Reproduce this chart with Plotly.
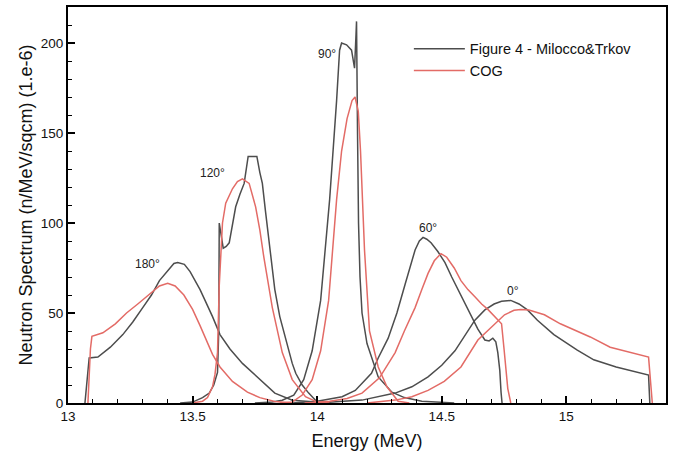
import plotly.graph_objects as go

# ---------------- data (Energy in MeV, spectrum in 1e-6 n/MeV/sqcm) ----------------
mt_180_E = [13.068, 13.078, 13.085, 13.12, 13.17, 13.22, 13.26, 13.30, 13.335, 13.367, 13.39, 13.407,
            13.425, 13.44, 13.467, 13.49, 13.51, 13.53, 13.55, 13.58, 13.61, 13.65, 13.70, 13.77,
            13.83, 13.90, 14.00, 14.05]
mt_180_V = [0, 15, 25, 25.5, 31, 38, 45, 53, 60, 68, 72, 75,
            77.5, 78, 77, 73, 68, 63, 57, 48, 38, 30, 22, 13,
            5.5, 1.5, 0.3, 0]

cog_180_E = [13.08, 13.09, 13.096, 13.14, 13.19, 13.235, 13.28, 13.315, 13.345, 13.367, 13.40, 13.43,
             13.465, 13.50, 13.53, 13.555, 13.58, 13.61, 13.66, 13.72, 13.77, 13.83, 13.90]
cog_180_V = [0, 30, 37, 39, 44, 50, 55, 59, 62.5, 65, 66.5, 65,
             60, 52, 43, 35, 27, 20, 12, 6, 3, 0.8, 0]

mt_120_E = [13.45, 13.50, 13.54, 13.567, 13.585, 13.60, 13.605, 13.607, 13.623, 13.635, 13.647, 13.66,
            13.673, 13.69, 13.707, 13.723, 13.758, 13.77, 13.78, 13.793, 13.806, 13.82, 13.83, 13.85,
            13.874, 13.90, 13.914, 13.94, 13.966, 14.00, 14.05]
mt_120_V = [0, 0.5, 3, 5.5, 10, 17, 40, 100, 86, 87, 89, 98,
            109, 116, 122, 137, 137, 128, 122, 106, 90.6, 75, 63, 48,
            35, 22, 16.5, 10, 5.5, 0.5, 0]

cog_120_E = [13.50, 13.54, 13.56, 13.58, 13.59, 13.60, 13.607, 13.62, 13.633, 13.66, 13.68, 13.70,
             13.727, 13.753, 13.77, 13.786, 13.82, 13.86, 13.90, 13.953, 14.00, 14.05]
cog_120_V = [0, 1, 3, 9, 16, 28, 65, 100, 111, 119, 123, 124.5,
             122, 109, 96, 81, 53, 28, 13, 3.5, 0.5, 0]

mt_90_E = [13.75, 13.82, 13.86, 13.906, 13.946, 13.98, 14.014, 14.05, 14.078, 14.09, 14.098, 14.118,
           14.138, 14.146, 14.15, 14.156, 14.158, 14.162, 14.166, 14.172, 14.18, 14.20, 14.245, 14.30,
           14.35, 14.42, 14.55]
mt_90_V = [0, 0.5, 1.5, 4.4, 13, 29, 57, 113, 168, 196, 200, 199,
           196, 188, 186, 205, 212, 150, 100, 70, 50, 33, 14.5, 6,
           3, 1, 0]

cog_90_E = [13.85, 13.90, 13.94, 13.98, 14.014, 14.046, 14.078, 14.098, 14.12, 14.14, 14.152, 14.165,
            14.174, 14.19, 14.21, 14.245, 14.28, 14.325, 14.37]
cog_90_V = [0, 0.5, 4.4, 13, 29, 57, 113, 140, 158, 168, 170, 162,
            140, 85, 40, 20, 9, 1, 0]

mt_60_E = [13.90, 14.00, 14.10, 14.153, 14.218, 14.245, 14.285, 14.32, 14.353, 14.375, 14.393, 14.41,
           14.425, 14.44, 14.457, 14.485, 14.513, 14.54, 14.565, 14.59, 14.617, 14.645, 14.673, 14.69,
           14.705, 14.717, 14.725, 14.733, 14.738, 14.742]
mt_60_V = [0, 1, 3.5, 7, 16.5, 25, 36, 50, 66, 76, 85, 90,
           92, 91, 89, 84, 78, 70, 63, 56, 48, 41, 35, 34.5,
           36, 34, 28, 18, 6, 0]

cog_60_E = [13.95, 14.05, 14.12, 14.18, 14.25, 14.313, 14.35, 14.393, 14.42, 14.445, 14.47, 14.497,
            14.52, 14.55, 14.577, 14.605, 14.633, 14.66, 14.685, 14.71, 14.725, 14.74, 14.75, 14.765,
            14.777]
cog_60_V = [0, 1, 2.5, 5.5, 14, 28, 40, 53, 63, 72, 79, 83,
            81, 75, 68, 63, 59, 55, 52, 48.5, 46, 44, 30, 8,
            0]

mt_0_E = [14.00, 14.18, 14.313, 14.38, 14.445, 14.50, 14.553, 14.60, 14.633, 14.673, 14.71, 14.74,
          14.777, 14.81, 14.844, 14.884, 14.95, 15.044, 15.11, 15.20, 15.28, 15.32, 15.33, 15.335]
mt_0_V = [0, 1.6, 5.5, 9, 14.5, 21, 29, 39, 46, 51.7, 55, 56.5,
          57, 55, 51.7, 46, 38, 29.4, 24, 20, 17.2, 16.2, 15.5, 0]

cog_0_E = [14.20, 14.313, 14.38, 14.445, 14.51, 14.577, 14.645, 14.697, 14.752, 14.79, 14.817, 14.85,
           14.912, 14.976, 15.05, 15.096, 15.176, 15.25, 15.32, 15.33, 15.345]
cog_0_V = [0, 1.6, 3.5, 7, 12, 20, 35, 42, 49, 51.5, 52, 51.7,
           49, 44, 39.5, 36.7, 31, 28.5, 26, 25.5, 0]

angle_labels = ["180°", "120°", "90°", "60°", "0°"]
series_names = ["Figure 4 - Milocco&Trkov", "COG"]

mt_curves = [(mt_180_E, mt_180_V), (mt_120_E, mt_120_V), (mt_90_E, mt_90_V),
             (mt_60_E, mt_60_V), (mt_0_E, mt_0_V)]
cog_curves = [(cog_180_E, cog_180_V), (cog_120_E, cog_120_V), (cog_90_E, cog_90_V),
              (cog_60_E, cog_60_V), (cog_0_E, cog_0_V)]

BLACK = "#4d4d4d"
RED = "#e36b66"
FONT = "Liberation Sans, Arial, Helvetica, sans-serif"

fig = go.Figure()
for curves, name, color in [(mt_curves, series_names[0], BLACK), (cog_curves, series_names[1], RED)]:
    for i, (E, V) in enumerate(curves):
        fig.add_trace(go.Scatter(
            x=E, y=V, mode="lines", name=name, legendgroup=name,
            showlegend=(i == 0),
            line=dict(color=color, width=1.5),
        ))

# angle labels (positions in data units)
label_pos = {"180°": (13.319, 77), "120°": (13.579, 128), "90°": (14.038, 194),
             "60°": (14.445, 97), "0°": (14.785, 62)}
for lab in angle_labels:
    x, y = label_pos[lab]
    fig.add_annotation(x=x, y=y, text=lab, showarrow=False,
                       font=dict(family=FONT, size=12, color="#222"))

axis_common = dict(
    showline=True, linecolor="black", linewidth=2, mirror=True,
    ticks="inside", tickcolor="black", tickwidth=1.5, ticklen=7,
    showgrid=False, zeroline=False,
    tickfont=dict(family=FONT, size=13.5, color="#111"),
)

fig.update_xaxes(
    range=[13, 15.4], tickvals=[13, 13.5, 14, 14.5, 15], ticktext=["13", "13.5", "14", "14.5", "15"],
    minor=dict(dtick=0.1, tick0=13, ticks="inside", ticklen=4, tickcolor="black", tickwidth=1.2),
    title=dict(text="Energy (MeV)", font=dict(family=FONT, size=18, color="#111")),
    automargin=False,
    **axis_common,
)
fig.update_yaxes(
    range=[0, 220], tickvals=[0, 50, 100, 150, 200],
    minor=dict(dtick=10, tick0=0, ticks="inside", ticklen=4, tickcolor="black", tickwidth=1.2),
    title=dict(text="Neutron Spectrum (n/MeV/sqcm) (1.e-6)", font=dict(family=FONT, size=18, color="#111"),
               standoff=3),
    automargin=True,
    **axis_common,
)

fig.update_layout(
    width=673, height=451,
    margin=dict(l=68, r=5, t=7, b=48),
    paper_bgcolor="white", plot_bgcolor="white",
    font=dict(family=FONT, color="#111"),
    legend=dict(x=0.57, y=0.935, xanchor="left", yanchor="top",
                bgcolor="rgba(0,0,0,0)", borderwidth=0,
                font=dict(family=FONT, size=14.5, color="#111"),
                itemwidth=51, tracegroupgap=0),
)

fig.write_html("out.html", config={"displayModeBar": False},
               post_script="document.body.style.margin='0px';")
